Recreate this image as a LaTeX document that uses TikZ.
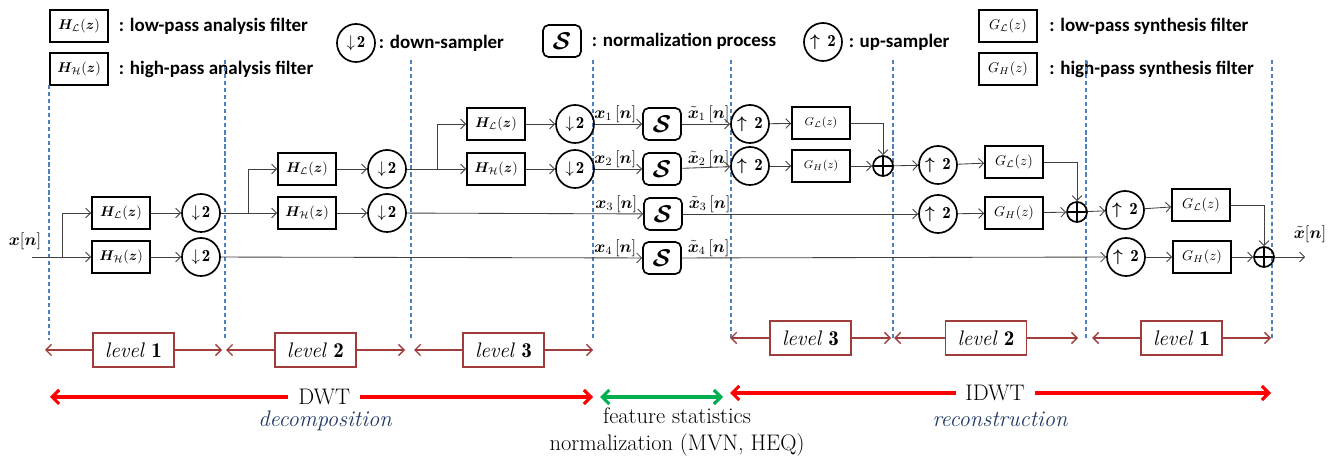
\documentclass[tikz,border=0pt]{standalone}
\usepackage{amsmath}
\usepackage{bm}
\usepackage{fontspec}
\newfontfamily\legendfont{Carlito}
\usetikzlibrary{arrows.meta,positioning}

\definecolor{sepblue}{RGB}{79,129,189}
\definecolor{lvlred}{RGB}{160,60,60}
\definecolor{dwtred}{RGB}{255,0,0}
\definecolor{fsngreen}{RGB}{0,176,80}
\definecolor{txtblue}{RGB}{31,56,100}

\newcommand{\bigfont}{\fontsize{16}{19}\selectfont}
\newcommand{\lvlfont}{\fontsize{15}{18}\selectfont}
\newcommand{\legfont}{\legendfont\bfseries\fontsize{13.5}{16}\selectfont}
\newcommand{\hlow}{$\bm{H}_{\mathcal{L}}(\bm{z})$}
\newcommand{\hhigh}{$\bm{H}_{\mathcal{H}}(\bm{z})$}
\newcommand{\glow}{$G_{\mathcal{L}}(z)$}
\newcommand{\ghigh}{$G_{H}(z)$}
\newcommand{\dsamp}{$\downarrow\!\mathbf{2}$}
\newcommand{\usamp}{$\bm{\uparrow}\,\mathbf{2}$}
\newcommand{\snorm}{$\bm{\mathcal{S}}$}

\begin{document}
\begin{tikzpicture}[x=0.025cm,y=-0.025cm,
  filtbox/.style={draw,line width=1.2pt,minimum width=1.45cm,minimum height=0.8cm,inner sep=1pt},
  gsmall/.style={filtbox,font=\footnotesize},
  sampler/.style={draw,circle,line width=1.2pt,minimum size=0.95cm,inner sep=0pt,font=\large},
  normbox/.style={draw,rounded corners=4pt,line width=1.2pt,minimum width=0.95cm,minimum height=0.8cm,inner sep=0pt,font=\LARGE},
  sumnode/.style={draw,circle,line width=1.2pt,minimum size=0.5cm,inner sep=0pt,
    path picture={\draw[line width=1.2pt] (path picture bounding box.north) -- (path picture bounding box.south)
      (path picture bounding box.west) -- (path picture bounding box.east);}},
  sig/.style={draw=black!75,line width=0.6pt,-{Straight Barb[length=3.5pt,width=7pt]}},
  sepline/.style={draw=sepblue,line width=0.9pt,dash pattern=on 3pt off 2pt},
  lvlbox/.style={draw=lvlred,text=black,line width=0.9pt,fill=white,minimum width=2.02cm,minimum height=0.85cm,font=\lvlfont},
  lvlarr/.style={lvlred,line width=1pt,{Straight Barb[length=4pt,width=8pt]}-{Straight Barb[length=4pt,width=8pt]}},
  bigarr/.style={line width=2.2pt,{Straight Barb[length=5pt,width=10pt]}-{Straight Barb[length=5pt,width=10pt]}},
  legtxt/.style={font=\legfont,inner sep=0pt},
  siglab/.style={font=\large,inner sep=1pt},
  bigtxt/.style={font=\bigfont,text=black,inner sep=2pt}]
\useasboundingbox (0,0) rectangle (1333,457);

% legend
\node[filtbox] (hlleg) at (79,26) {\hlow};
\node[legtxt,right=7pt of hlleg] (hllegt) {: low-pass analysis filter};
\node[filtbox] (hhleg) at (79,69) {\hhigh};
\node[legtxt,right=7pt of hhleg] (hhlegt) {: high-pass analysis filter};
\node[sampler] (dnleg) at (356,43) {\dsamp};
\node[legtxt,right=2pt of dnleg] (dnlegt) {: down-sampler};
\node[normbox] (sleg) at (562,41) {\snorm};
\node[legtxt,right=7pt of sleg] (slegt) {: normalization process};
\node[sampler] (upleg) at (823,42) {\usamp};
\node[legtxt,right=4pt of upleg] (uplegt) {: up-sampler};
\node[filtbox] (glleg) at (1008,26) {\glow};
\node[legtxt,right=8pt of glleg] (gllegt) {: low-pass synthesis filter};
\node[filtbox] (ghleg) at (1008,69) {\ghigh};
\node[legtxt,right=8pt of ghleg] (ghlegt) {: high-pass synthesis filter};

% stage boundaries
\draw[sepline] (49,85) -- (49,340);
\draw[sepline] (225,60) -- (225,340);
\draw[sepline] (411,60) -- (411,340);
\draw[sepline] (593,60) -- (593,340);
\draw[sepline] (731,60) -- (731,340);
\draw[sepline] (893,60) -- (893,340);
\draw[sepline] (1086,60) -- (1086,340);
\draw[sepline] (1272,60) -- (1272,340);

% analysis, level 1
\coordinate (in) at (32,257);
\coordinate (br1) at (62,257);
\node[siglab] (xin) at (25,241) {$\bm{x}[\bm{n}]$};
\node[filtbox] (hl1) at (121,213) {\hlow};
\node[filtbox] (hh1) at (121,257) {\hhigh};
\node[sampler] (d11) at (201,213) {\dsamp};
\node[sampler] (d12) at (201,257) {\dsamp};
\draw[sig] (in) -- (hh1);
\draw[sig] (br1) |- (hl1);
\draw[sig] (hl1) -- (d11);
\draw[sig] (hh1) -- (d12);

% analysis, level 2
\coordinate (br2) at (248,213);
\node[filtbox] (hl2) at (307,169) {\hlow};
\node[filtbox] (hh2) at (307,213) {\hhigh};
\node[sampler] (d21) at (387,169) {\dsamp};
\node[sampler] (d22) at (387,213) {\dsamp};
\draw[sig] (d11) -- (hh2);
\draw[sig] (br2) |- (hl2);
\draw[sig] (hl2) -- (d21);
\draw[sig] (hh2) -- (d22);

% analysis, level 3
\coordinate (br3) at (437,169);
\node[filtbox] (hl3) at (496,124) {\hlow};
\node[filtbox] (hh3) at (496,169) {\hhigh};
\node[sampler] (d31) at (575,124) {\dsamp};
\node[sampler] (d32) at (575,169) {\dsamp};
\draw[sig] (d21) -- (hh3);
\draw[sig] (br3) |- (hl3);
\draw[sig] (hl3) -- (d31);
\draw[sig] (hh3) -- (d32);

% normalization
\node[normbox] (s1) at (662,124) {\snorm};
\node[normbox] (s2) at (662,169) {\snorm};
\node[normbox] (s3) at (663,214) {\snorm};
\node[normbox] (s4) at (662,258) {\snorm};
\draw[sig] (d31) -- (s1);
\draw[sig] (d32) -- (s2);
\draw[sig] (d22) -- (s3);
\draw[sig] (d12) -- (s4);
\node[siglab,above left=0pt and 3pt of s1.west] (x1) {$\bm{x}_1\,[\bm{n}]$};
\node[siglab,above left=0pt and 3pt of s2.west] (x2) {$\bm{x}_2\,[\bm{n}]$};
\node[siglab,above left=0pt and 3pt of s3.west] (x3) {$\bm{x}_3\,[\bm{n}]$};
\node[siglab,above left=0pt and 3pt of s4.west] (x4) {$\bm{x}_4\,[\bm{n}]$};
\node[siglab,above right=0pt and 3pt of s1.east] (xt1) {$\tilde{\bm{x}}_1\,[\bm{n}]$};
\node[siglab,above right=0pt and 3pt of s2.east] (xt2) {$\tilde{\bm{x}}_2\,[\bm{n}]$};
\node[siglab,above right=0pt and 3pt of s3.east] (xt3) {$\tilde{\bm{x}}_3\,[\bm{n}]$};
\node[siglab,above right=0pt and 3pt of s4.east] (xt4) {$\tilde{\bm{x}}_4\,[\bm{n}]$};

% synthesis, level 3
\node[sampler] (u31) at (750,124) {\usamp};
\node[sampler] (u32) at (750,166) {\usamp};
\node[gsmall] (g31) at (821,123) {\glow};
\node[gsmall] (g32) at (821,166) {\ghigh};
\node[sumnode] (sum3) at (883,166) {};
\draw[sig] (s1) -- (u31);
\draw[sig] (s2) -- (u32);
\draw[sig] (u31) -- (g31);
\draw[sig] (u32) -- (g32);
\draw[sig] (g32) -- (sum3);
\draw[sig] (g31) -| (sum3);

% synthesis, level 2
\node[sampler] (u21) at (938,165) {\usamp};
\node[sampler] (u22) at (938,214) {\usamp};
\node[filtbox] (g21) at (1014,162) {\glow};
\node[filtbox] (g22) at (1014,213) {\ghigh};
\node[sumnode] (sum2) at (1077,212) {};
\draw[sig] (sum3) -- (u21);
\draw[sig] (s3) -- (u22);
\draw[sig] (u21) -- (g21);
\draw[sig] (u22) -- (g22);
\draw[sig] (g22) -- (sum2);
\draw[sig] (g21) -| (sum2);

% synthesis, level 1
\node[sampler] (u11) at (1125,210) {\usamp};
\node[sampler] (u12) at (1126,257) {\usamp};
\node[filtbox] (g11) at (1201,205) {\glow};
\node[filtbox] (g12) at (1202,257) {\ghigh};
\node[sumnode] (sum1) at (1264,257) {};
\coordinate (out) at (1305,257);
\node[siglab] (xout) at (1310,234) {$\tilde{\bm{x}}[\bm{n}]$};
\draw[sig] (sum2) -- (u11);
\draw[sig] (s4) -- (u12);
\draw[sig] (u11) -- (g11);
\draw[sig] (u12) -- (g12);
\draw[sig] (g12) -- (sum1);
\draw[sig] (g11) -| (sum1);
\draw[sig] (sum1) -- (out);

% levels
\coordinate (la1) at (45,350);
\coordinate (lb1) at (222,350);
\coordinate (la2) at (226,350);
\coordinate (lb2) at (405,350);
\coordinate (la3) at (414,350);
\coordinate (lb3) at (593,350);
\draw[lvlarr] (la1) -- (lb1) node[lvlbox,midway] (lv1) {\textit{level} $\mathbf{1}$};
\draw[lvlarr] (la2) -- (lb2) node[lvlbox,midway] (lv2) {\textit{level} $\mathbf{2}$};
\draw[lvlarr] (la3) -- (lb3) node[lvlbox,midway] (lv3) {\textit{level} $\mathbf{3}$};
\coordinate (ra3) at (730,338);
\coordinate (rb3) at (891,338);
\coordinate (ra2) at (894,338);
\coordinate (rb2) at (1078,338);
\coordinate (ra1) at (1092,338);
\coordinate (rb1) at (1271,338);
\draw[lvlarr] (ra3) -- (rb3) node[lvlbox,midway] (rv3) {\textit{level} $\mathbf{3}$};
\draw[lvlarr] (ra2) -- (rb2) node[lvlbox,midway] (rv2) {\textit{level} $\mathbf{2}$};
\draw[lvlarr] (ra1) -- (rb1) node[lvlbox,midway] (rv1) {\textit{level} $\mathbf{1}$};

% DWT, normalization, IDWT
\coordinate (dwta) at (50,397);
\coordinate (dwtb) at (593,397);
\coordinate (fsna) at (600,397);
\coordinate (fsnb) at (723,397);
\coordinate (idwta) at (730,393);
\coordinate (idwtb) at (1271,393);
\draw[bigarr,dwtred] (dwta) -- (dwtb) node[bigtxt,fill=white,pos=0.505,inner xsep=7pt] (dwt) {DWT};
\draw[bigarr,fsngreen] (fsna) -- (fsnb);
\draw[bigarr,dwtred] (idwta) -- (idwtb) node[bigtxt,fill=white,pos=0.49,inner xsep=7pt] (idwt) {IDWT};
\node[bigtxt,text=txtblue,font=\bigfont\itshape] (dec) at (325,421) {decomposition};
\node[bigtxt,text=txtblue,font=\bigfont\itshape] (rec) at (1000,419) {reconstruction};
\node[bigtxt,align=center] (fsn) at (677,432) {feature statistics\\normalization (MVN, HEQ)};

\end{tikzpicture}
\end{document}
